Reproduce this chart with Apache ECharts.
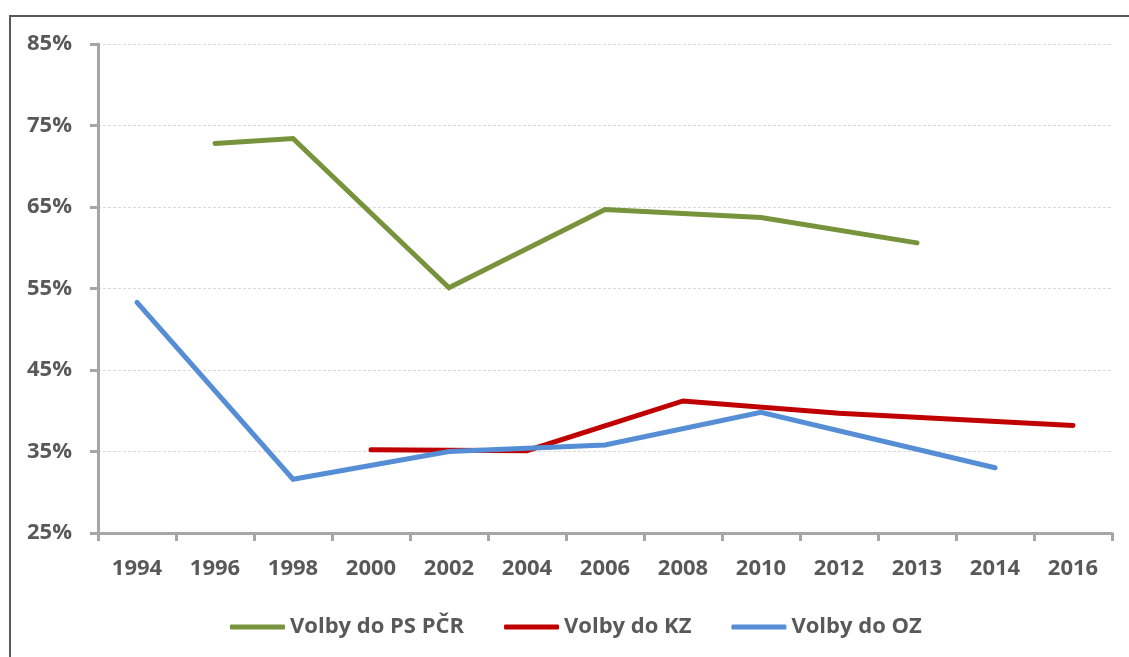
<!DOCTYPE html>
<html>
<head>
<meta charset="utf-8">
<script src="https://cdn.jsdelivr.net/npm/echarts@6/dist/echarts.min.js"></script>
<style>
html,body{margin:0;padding:0;background:#fff;}
#chart{width:1129px;height:657px;}
</style>
</head>
<body>
<div id="chart"></div>
<script>
const categories = ['1994','1996','1998','2000','2002','2004','2006','2008','2010','2012','2013','2014','2016'];
const volbyPS = [null,72.8,73.4,null,55.1,null,64.7,null,63.7,null,60.6,null,null];
const volbyKZ = [null,null,null,35.2,null,35.1,null,41.2,null,39.7,null,null,38.2];
const volbyOZ = [53.3,null,31.6,null,35.0,null,35.8,null,39.8,null,null,33.0,null];
const seriesNames = ['Volby do PS PČR','Volby do KZ','Volby do OZ'];
const yTicks = {min:25, max:85, interval:10};

const font = '"Open Sans", "Noto Sans", sans-serif';
const textColor = '#595959';
const axisColor = '#A6A6A6';

const chart = echarts.init(document.getElementById('chart'), null, {renderer:'canvas'});
function mkSeries(name, data, color){
  return {
    name: name, type:'line', data: data, connectNulls:true, symbol:'none',
    lineStyle:{color:color, width:5, cap:'round', join:'miter'},
    itemStyle:{color:color}
  };
}
chart.setOption({
  animation:false,
  backgroundColor:'#fff',
  graphic:[{
    type:'rect', shape:{x:10, y:16, width:1300, height:800},
    style:{fill:'none', stroke:'#595959', lineWidth:2}, silent:true
  }],
  grid:{left:98, right:17, top:44, bottom:124, containLabel:false},
  legend:{
    left:230, top:616, padding:0, itemWidth:55, itemHeight:5, itemGap:40, icon:'roundRect',
    textStyle:{fontFamily:font, fontSize:22, fontWeight:'bold', color:textColor},
    data:seriesNames
  },
  xAxis:{
    type:'category', data:categories, boundaryGap:true,
    axisLine:{lineStyle:{color:axisColor, width:3}},
    axisTick:{show:true, length:8, lineStyle:{color:axisColor, width:3}},
    axisLabel:{fontFamily:font, fontSize:22, fontWeight:'bold', color:textColor, margin:25, interval:0},
    splitLine:{show:false}
  },
  yAxis:{
    type:'value', min:yTicks.min, max:yTicks.max, interval:yTicks.interval,
    axisLine:{show:true, lineStyle:{color:axisColor, width:3}},
    axisTick:{show:true, length:8, lineStyle:{color:axisColor, width:3}},
    axisLabel:{fontFamily:font, fontSize:22, fontWeight:'bold', color:textColor, margin:26, formatter:'{value}%'},
    splitLine:{show:true, lineStyle:{color:'#D9D9D9', width:1, type:[3,2]}}
  },
  series:[
    mkSeries(seriesNames[0], volbyPS, '#77933C'),
    mkSeries(seriesNames[1], volbyKZ, '#C00000'),
    mkSeries(seriesNames[2], volbyOZ, '#558ED5')
  ]
});
</script>
</body>
</html>
